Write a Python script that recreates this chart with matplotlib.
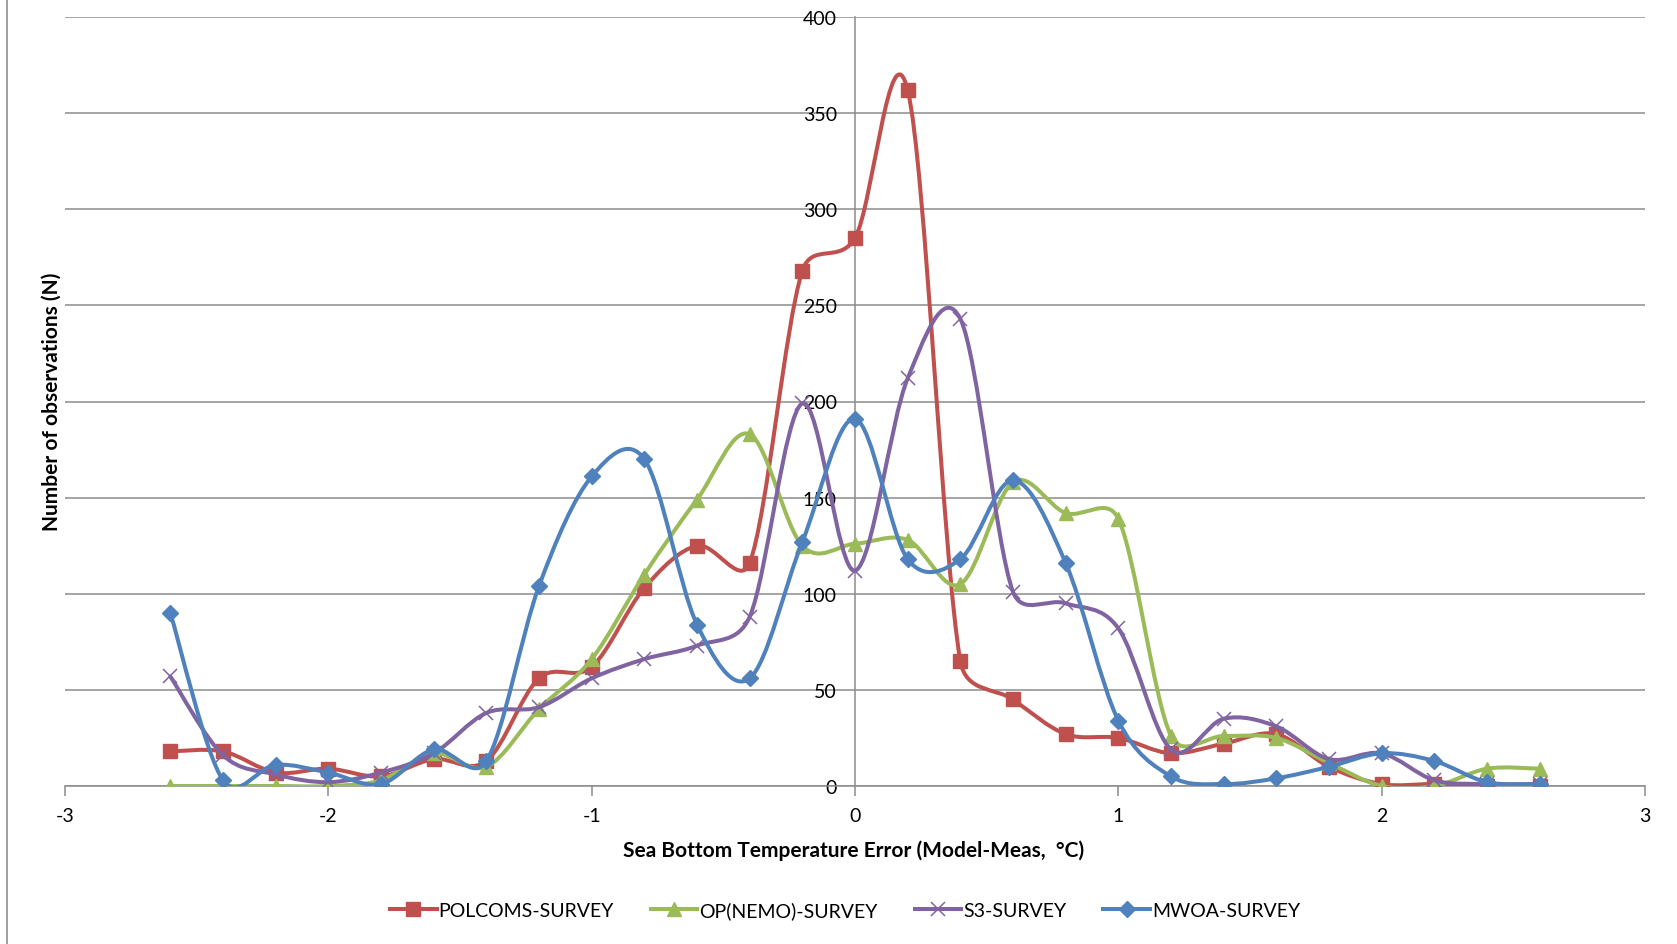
"""Histogram of sea bottom temperature errors, Excel-style smoothed lines."""

import matplotlib

matplotlib.use("Agg")
import matplotlib.pyplot as plt
import numpy as np
from matplotlib.lines import Line2D
from matplotlib.patches import PathPatch
from matplotlib.path import Path

error_bins = [-2.6, -2.4, -2.2, -2.0, -1.8, -1.6, -1.4, -1.2, -1.0, -0.8,
              -0.6, -0.4, -0.2, 0.0, 0.2, 0.4, 0.6, 0.8, 1.0, 1.2,
              1.4, 1.6, 1.8, 2.0, 2.2, 2.4, 2.6]
polcoms = [18, 18, 7, 9, 5, 14, 13, 56, 62, 103, 125, 116, 268, 285,
           362, 65, 45, 27, 25, 17, 22, 27, 10, 1, 1, 0, 0]
op_nemo = [0, 0, 0, 0, 3, 17, 10, 40, 66, 110, 149, 183, 125, 126,
           128, 105, 158, 142, 139, 26, 26, 25, 12, 0, 0, 9, 9]
s3 = [57, 16, 6, 2, 7, 17, 38, 41, 56, 66, 73, 88, 199, 112,
      212, 243, 101, 95, 82, 19, 35, 31, 14, 17, 3, 1, 1]
mwoa = [90, 3, 11, 7, 1, 19, 13, 104, 161, 170, 84, 56, 127, 191,
        118, 118, 159, 116, 34, 5, 1, 4, 10, 17, 13, 2, 1]

series = [
    ("POLCOMS-SURVEY", polcoms, "#C0504D", "s"),
    ("OP(NEMO)-SURVEY", op_nemo, "#9BBB59", "^"),
    ("S3-SURVEY", s3, "#8064A2", "x"),
    ("MWOA-SURVEY", mwoa, "#4F81BD", "D"),
]
marker_size = {"s": 9.5, "^": 10, "x": 10, "D": 8}

GRID = "#8C8C8C"
LW = 2.9


def smooth_path(ax, x, y):
    """Excel-like smoothed line: Bezier segments, tangents capped to half a segment."""
    pts = ax.transData.transform(np.column_stack([x, y]).astype(float))
    ext = np.vstack([pts[0], pts, pts[-1]])
    verts = [pts[0]]
    codes = [Path.MOVETO]
    for i in range(len(pts) - 1):
        p0, p1, p2, p3 = ext[i], ext[i + 1], ext[i + 2], ext[i + 3]
        d12 = np.hypot(*(p2 - p1))
        t1 = (p2 - p0) / 6
        t2 = (p3 - p1) / 6
        for t in (t1, t2):
            n = np.hypot(*t)
            if n > d12 / 2 and n > 0:
                t *= (d12 / 2) / n
        verts += [p1 + t1, p2 - t2, p2]
        codes += [Path.CURVE4] * 3
    verts = ax.transData.inverted().transform(np.array(verts))
    return Path(verts, codes)


plt.rcParams["font.family"] = ["Lato", "DejaVu Sans"]
plt.rcParams["axes.unicode_minus"] = False

fig = plt.figure(figsize=(16.77, 9.45), dpi=100)
ax = fig.add_axes([65 / 1677, 1 - 787 / 945, 1580 / 1677, 769 / 945])
ax.set_xlim(-3, 3)
ax.set_ylim(0, 400)

handles = []
for i, (name, values, color, marker) in enumerate(series):
    ax.add_patch(PathPatch(smooth_path(ax, error_bins, values), fill=False,
                           ec=color, lw=LW, zorder=3 + i, capstyle="round",
                           joinstyle="round"))
    mew = 1.1 if marker == "x" else 1
    ax.plot(error_bins, values, ls="none", marker=marker,
            ms=marker_size[marker], mew=mew, color=color, mec=color,
            zorder=3 + i)
    handles.append(Line2D([], [], color=color, lw=LW, marker=marker,
                          ms=marker_size[marker], mew=mew, label=name))

ax.set_xticks([-3, -2, -1, 0, 1, 2, 3])
ax.set_yticks(range(0, 401, 50))
ax.yaxis.grid(True, color=GRID, lw=1.1)
ax.set_axisbelow(True)

for side in ("top", "right"):
    ax.spines[side].set_visible(False)
ax.spines["left"].set_position(("data", 0))
for side in ("left", "bottom"):
    ax.spines[side].set_color(GRID)
    ax.spines[side].set_linewidth(1.1)
ax.tick_params(axis="x", direction="out", length=7, width=1.1, color=GRID,
               pad=8, labelsize=14)
ax.tick_params(axis="y", length=0, pad=13, labelsize=14)

fig.text(52 / 1677, 1 - 402 / 945, "Number of observations (N)",
         rotation=90, ha="center", va="center", fontsize=15,
         fontweight="bold")
fig.text(854 / 1677, 1 - 851 / 945,
         "Sea Bottom Temperature Error (Model-Meas,  °C)",
         ha="center", va="center", fontsize=15, fontweight="bold")

fig.legend(handles=handles, ncol=4, loc="center",
           bbox_to_anchor=(845 / 1677, 1 - 911 / 945), frameon=False,
           fontsize=14, handlelength=2.4, handletextpad=0.1,
           columnspacing=1.9)

fig.add_artist(Line2D([7 / 1677, 7 / 1677], [0, 1], color=GRID, lw=1.2,
                      transform=fig.transFigure))

fig.savefig("out.png", dpi=100)
